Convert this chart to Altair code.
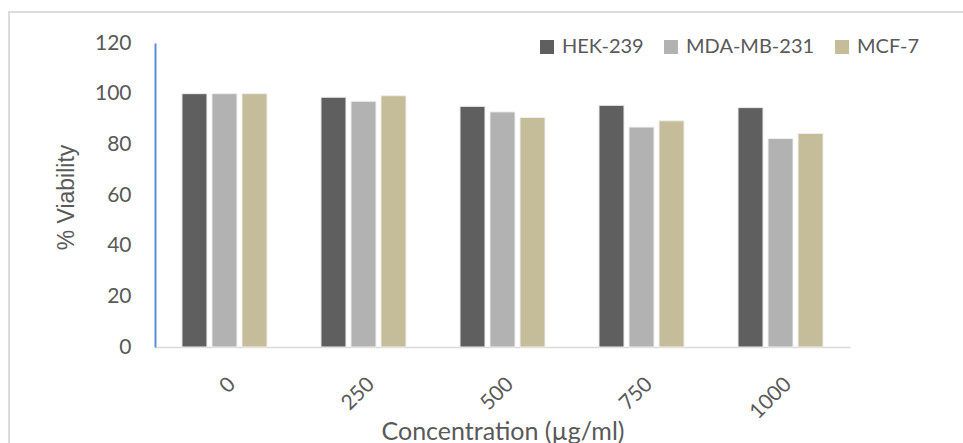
import altair as alt
import pandas as pd

concentrations = ["0", "250", "500", "750", "1000"]
series_names = ["HEK-239", "MDA-MB-231", "MCF-7"]
hek = [100, 98.6, 95.0, 95.4, 94.5]
mda = [100, 97.0, 92.8, 86.8, 82.3]
mcf = [100, 99.2, 90.6, 89.3, 84.3]
colors = ["#5f5f5f", "#b2b2b2", "#c5bd99"]
y_ticks = [0, 20, 40, 60, 80, 100, 120]

rows = []
for name, vals in zip(series_names, [hek, mda, mcf]):
    for c, v in zip(concentrations, vals):
        rows.append({"conc": c, "series": name, "value": v})
df = pd.DataFrame(rows)

W, H = 695, 304
TXT = "#595959"

bars = alt.Chart(df).mark_bar(stroke="#eeeeee", strokeWidth=1).encode(
    x=alt.X("conc:N", sort=concentrations,
            scale=alt.Scale(paddingInner=0.3525, paddingOuter=0.176),
            axis=alt.Axis(title="Concentration (µg/ml)", labelAngle=-45,
                          labelFont="Lato", labelFontSize=21, labelColor=TXT,
                          labelPadding=26, ticks=False,
                          domainColor="#d9d9d9", domainWidth=1.5,
                          titleFont="Lato", titleFontSize=25, titleFontWeight="normal",
                          titleColor=TXT, titleBaseline="alphabetic", titleY=92)),
    xOffset=alt.XOffset("series:N", sort=series_names,
                        scale=alt.Scale(paddingInner=0.167, paddingOuter=0.083)),
    y=alt.Y("value:Q", scale=alt.Scale(domain=[0, 120], nice=False),
            axis=alt.Axis(title="% Viability", values=y_ticks, grid=False, ticks=False,
                          labelFont="Lato", labelFontSize=21, labelColor=TXT,
                          labelPadding=24,
                          domainColor="#5b8fd0", domainWidth=2,
                          titleFont="Liberation Sans", titleFontSize=23,
                          titleFontWeight="normal", titleColor=TXT,
                          titleBaseline="alphabetic", titleX=-82, titleY=154,
                          titleAlign="center")),
    color=alt.Color("series:N", sort=series_names,
                    scale=alt.Scale(domain=series_names, range=colors),
                    legend=alt.Legend(title=None, orient="none", direction="horizontal",
                                      legendX=382, legendY=-6, padding=0,
                                      symbolType="square", symbolSize=196,
                                      symbolStrokeWidth=0, symbolOpacity=1,
                                      labelFont="Lato", labelFontSize=20,
                                      labelColor=TXT, labelOffset=5,
                                      columnPadding=17)),
)

frame = alt.Chart(alt.Data(values=[{}])).mark_rect(
    filled=False, stroke="#dcdcdc", strokeWidth=2, clip=False
).encode(
    x=alt.value(-146), x2=alt.value(830),
    y=alt.value(-31), y2=alt.value(120 + H),
)

chart = alt.layer(frame, bars).properties(
    width=W, height=H,
    background="white",
    autosize=alt.AutoSizeParams(type="none"),
    padding={"left": 155, "top": 43, "right": 113, "bottom": 96},
).configure_view(strokeWidth=0, stroke="transparent")

chart.save("out.html", embed_options={"renderer": "svg", "actions": False})
